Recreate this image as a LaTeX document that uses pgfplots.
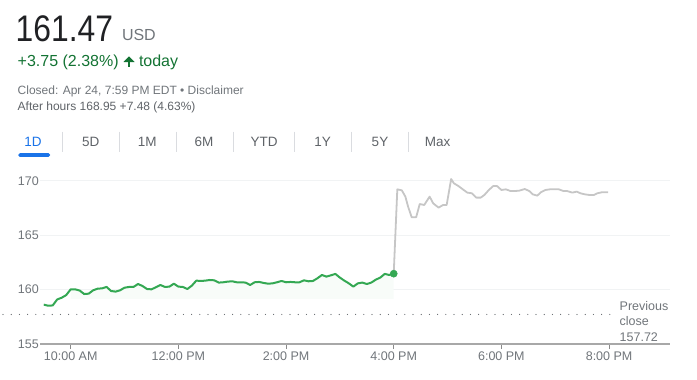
\documentclass[border=0pt]{standalone}
\usepackage{fontspec}
\setmainfont{Liberation Sans}
\usepackage{pgfplots}
\pgfplotsset{compat=1.18}
\usepackage{pgfplotstable}
\definecolor{gtext}{HTML}{202124}
\definecolor{ggrey}{HTML}{70757A}
\definecolor{gdark}{HTML}{5F6368}
\definecolor{ggreen}{HTML}{137333}
\definecolor{gline}{HTML}{34A853}
\definecolor{gblue}{HTML}{1A73E8}
\definecolor{gsep}{HTML}{DADCE0}
\definecolor{ggridc}{HTML}{F1F3F4}
\definecolor{gafter}{HTML}{C6C6C6}
\definecolor{gaxis}{HTML}{A8A8A8}
\definecolor{gtick}{HTML}{8A8A8A}
\definecolor{gfill}{HTML}{F8FCF9}

% regular session, minutes after midnight
\pgfplotstableread{
t v
570 158.62
575 158.52
580 158.55
585 159.10
590 159.26
595 159.50
600 160.03
605 160.03
610 159.92
615 159.60
620 159.63
625 159.94
630 160.09
635 160.12
640 160.25
645 159.88
650 159.82
655 159.94
660 160.18
665 160.25
670 160.25
675 160.52
680 160.34
685 160.06
690 160.03
695 160.22
700 160.43
705 160.25
710 160.28
715 160.55
720 160.28
725 160.25
730 160.06
735 160.37
740 160.83
745 160.80
750 160.83
755 160.89
760 160.86
765 160.65
770 160.68
775 160.74
780 160.77
785 160.68
790 160.68
795 160.65
800 160.43
805 160.68
810 160.71
815 160.62
820 160.55
825 160.58
830 160.68
835 160.80
840 160.68
845 160.71
850 160.68
855 160.68
860 160.86
865 160.77
870 160.80
875 161.05
880 161.35
885 161.20
890 161.32
895 161.45
900 161.11
905 160.83
910 160.58
915 160.28
920 160.58
925 160.65
930 160.52
935 160.65
940 160.92
945 161.11
950 161.45
955 161.35
960 161.47
}\regular

% after hours
\pgfplotstableread{
t v
960 161.47
964 169.23
969 169.14
973 168.56
976 167.64
980 166.66
985 166.66
989 167.88
994 167.79
1000 168.56
1004 167.94
1010 167.55
1015 167.79
1019 167.79
1024 170.18
1027 169.79
1032 169.54
1037 169.23
1042 168.93
1047 168.87
1052 168.47
1057 168.47
1061 168.71
1066 169.17
1071 169.54
1075 169.54
1080 169.17
1085 169.23
1090 169.08
1096 169.08
1100 169.11
1106 169.26
1111 169.08
1115 168.77
1120 168.65
1124 168.96
1129 169.17
1134 169.23
1139 169.23
1144 169.23
1149 169.08
1153 169.08
1159 168.93
1164 169.02
1168 168.87
1173 168.77
1178 168.71
1183 168.71
1187 168.87
1192 168.96
1195 168.96
1199 168.96
}\afterhours

\begin{document}
\begin{tikzpicture}
\path[use as bounding box] (0,0) rectangle (697pt,-380pt);

% header
\node[anchor=base west, inner sep=0, text=gtext] at (15.5pt,-41.7pt)
  {\scalebox{0.86}[1]{\fontsize{37}{40}\selectfont 161.47}};
\node[anchor=base west, inner sep=0, text=ggrey] at (121.8pt,-40.7pt)
  {\fontsize{16}{18}\selectfont USD};
\node[anchor=base west, inner sep=0, text=ggreen] at (17.5pt,-66.7pt)
  {\fontsize{16}{18}\selectfont +3.75 (2.38\%)};
\fill[ggreen] (123.5pt,-62pt) -- (129pt,-56.3pt) -- (134.5pt,-62pt) -- cycle;
\fill[ggreen] (127.6pt,-61.5pt) rectangle (130.4pt,-66.7pt);
\node[anchor=base west, inner sep=0, text=ggreen] at (138.8pt,-66.7pt)
  {\fontsize{16}{18}\selectfont today};
\node[anchor=base west, inner sep=0, text=ggrey] at (17.5pt,-94pt)
  {\fontsize{12}{14}\selectfont Closed: Apr 24, 7:59 PM EDT • Disclaimer};
\node[anchor=base west, inner sep=0, text=gdark] at (17.5pt,-110pt)
  {\fontsize{12}{14}\selectfont After hours 168.95 +7.48 (4.63\%)};

% range tabs
\foreach \cx/\lab in {90.7/5D,147.3/1M,204/6M,264/YTD,322.7/1Y,380/5Y,437.7/Max}
  \node[anchor=base, inner sep=0, text=gdark] at (\cx pt,-146.7pt) {\fontsize{13.5}{15}\selectfont \lab};
\node[anchor=base, inner sep=0, text=gblue] at (33pt,-146.7pt) {\fontsize{13.5}{15}\selectfont 1D};
\foreach \sx in {62.7,119.3,176,233.3,294.3,351.7,408.3}
  \draw[gsep, line width=0.8pt] (\sx pt,-131.7pt) -- (\sx pt,-152.3pt);
\fill[gblue, rounded corners=1.5pt] (18.3pt,-153.2pt) rectangle (50pt,-156.8pt);

% previous close label
\node[anchor=base west, inner sep=0, text=ggrey] at (619.5pt,-310.7pt) {\fontsize{12.5}{14}\selectfont Previous};
\node[anchor=base west, inner sep=0, text=ggrey] at (619.5pt,-325.9pt) {\fontsize{12.5}{14}\selectfont close};
\node[anchor=base west, inner sep=0, text=ggrey] at (619.5pt,-341pt) {\fontsize{12.5}{14}\selectfont 157.72};

\begin{axis}[
  at={(40pt,-344pt)}, anchor=south west,
  scale only axis, width=630pt, height=173.9pt,
  xmin=565.8, xmax=1267.9, ymin=155, ymax=171,
  clip=false,
  axis line style={draw=none},
  xtick={600,720,840,960,1080,1200},
  xticklabels={10:00 AM,12:00 PM,2:00 PM,4:00 PM,6:00 PM,8:00 PM},
  ytick={155,160,165,170},
  xtick pos=bottom, ytick pos=left,
  xtick align=outside, major tick length=5pt,
  xtick style={color=gtick, line width=1pt},
  ytick style={draw=none},
  ymajorgrids, grid style={color=ggridc, line width=1pt},
  /pgf/number format/assume math mode=true,
  tick label style={font=\fontsize{12.5}{14}\selectfont, text=ggrey},
  xticklabel style={inner sep=0pt, yshift=-2.7pt},
  yticklabel style={inner sep=0pt, xshift=-1pt},
]
\begin{scope}
\clip (axis cs:600,159.2) rectangle (axis cs:960,171);
\addplot[fill=gfill, draw=none] table[x=t, y=v] {\regular} \closedcycle;
\end{scope}
\addplot[gdark, line width=1.2pt, dash pattern=on 0pt off 8.2pt, line cap=round]
  coordinates {(524.6,157.72) (1204.4,157.72)};
\addplot[gafter, line width=1.8pt, line join=round] table[x=t, y=v] {\afterhours};
\addplot[gline, line width=2pt, line join=round] table[x=t, y=v] {\regular};
\addplot[only marks, mark=*, mark size=3.6pt, color=gline] coordinates {(960,161.47)};
\draw[gaxis, line width=2pt] (rel axis cs:0,0) -- (rel axis cs:1,0);
\end{axis}
\end{tikzpicture}
\end{document}
